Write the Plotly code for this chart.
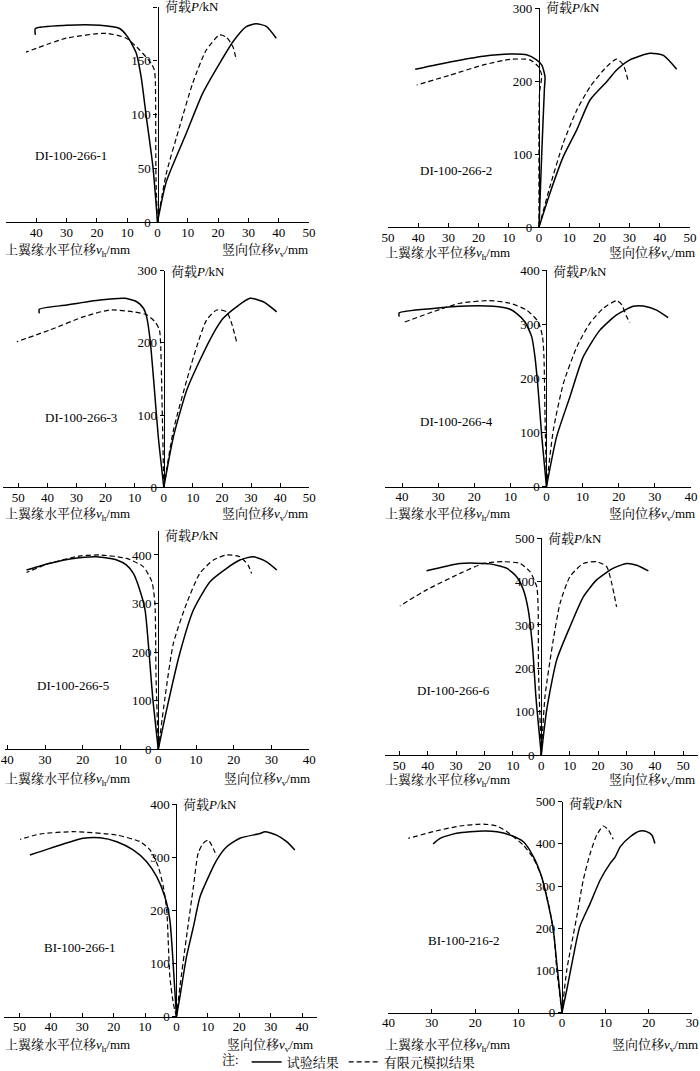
import plotly.graph_objects as go

# ---------------- data (horizontal displacement stored as leftward-positive) ----------------
# Panel 1  DI-100-266-1
p1_h_exp_d = [0, 1.5, 3.7, 5.4, 7, 9.8, 12.5, 19, 30, 40.3, 40.3]
p1_h_exp_p = [0, 51, 98, 135, 157, 172, 180, 183, 183, 180, 174]
p1_h_fe_d = [0, 0.5, 0.7, 1.0, 2.1, 5.9, 10.3, 16.9, 30.1, 43.4]
p1_h_fe_p = [0, 40, 130, 141, 147.6, 160, 171, 175.5, 171, 158]
p1_v_exp_d = [0, 2.9, 9.5, 14.9, 20.5, 24.9, 29.3, 32.6, 35.9, 39.2]
p1_v_exp_p = [0, 37.5, 82.5, 119.7, 147.6, 167.7, 181.7, 184.4, 182, 171]
p1_v_fe_d = [0, 2.9, 7.3, 11.6, 16.1, 20.5, 22.7, 24.9, 26]
p1_v_fe_p = [0, 45, 88.7, 129, 160, 174, 172, 163, 150.7]

# Panel 2  DI-100-266-2
p2_h_exp_d = [0, -0.9, -1.8, -2.0, -1.5, -0.9, 0.8, 4.1, 9.6, 18.4, 29.5, 41]
p2_h_exp_p = [0, 100, 190, 205, 215, 222, 229, 236, 237, 234, 226, 216]
p2_h_fe_d = [0, 0, -0.2, -0.9, 0.2, 3, 9.6, 18.4, 29.5, 40.5]
p2_h_fe_p = [0, 150, 185, 208, 219.6, 229, 229.7, 222, 208, 194.5]
p2_v_exp_d = [0, 3.6, 8, 12.5, 16.9, 22.4, 25.7, 30.1, 36.8, 41.2, 45.6]
p2_v_exp_p = [0, 46, 96, 133, 174, 199, 215, 229, 238, 235, 216]
p2_v_fe_d = [0, 3.6, 8, 12.5, 16.9, 22.4, 25.7, 27.9, 29.6]
p2_v_fe_p = [0, 55, 114.6, 160, 192, 219.6, 230, 222, 199]

# Panel 3  DI-100-266-3
p3_h_exp_d = [0, 1.9, 3.4, 4.7, 5.9, 7, 9.3, 13.3, 21.9, 33.4, 42.8, 42.8]
p3_h_exp_p = [0, 70, 144, 204, 236, 248, 257, 261.7, 259.4, 252.5, 246.5, 241]
p3_h_fe_d = [0, 0.5, 1.1, 1.5, 3, 5.9, 10.5, 18.5, 27.7, 39.1, 50.5]
p3_h_fe_p = [0, 98, 199, 218, 229, 239, 243, 245.6, 236, 218, 201.7]
p3_v_exp_d = [0, 3.3, 7.9, 12.4, 17, 20.4, 25, 29.6, 34.2, 38.8]
p3_v_exp_p = [0, 70, 134.8, 176, 213, 234, 250, 261.7, 257, 243]
p3_v_fe_d = [0, 3.3, 7.9, 11.3, 14.7, 18.2, 21.6, 23.3, 25]
p3_v_fe_p = [0, 79, 148.6, 194.7, 231.7, 245.6, 243, 227, 201.7]

# Panel 4  DI-100-266-4
p4_h_exp_d = [0, 1.3, 2.3, 3.2, 4.1, 6, 8.3, 10.1, 14.7, 22.1, 31.4, 40.8, 40.8]
p4_h_exp_p = [0, 92, 178.5, 240, 277, 304.6, 320, 327.5, 333, 333.6, 329, 321, 314]
p4_h_fe_d = [0, 0.4, 0.7, 1.1, 2.3, 5.5, 10.1, 15.7, 24, 31.4, 39.7]
p4_h_fe_p = [0, 129, 240, 277, 304.6, 326, 338.6, 343.4, 338.6, 323, 302.8]
p4_v_exp_d = [0, 2.8, 6.5, 10.2, 14.8, 19.4, 24, 26.8, 30.5, 33.7]
p4_v_exp_p = [0, 92, 166, 240, 289, 317, 333, 333.6, 326, 312]
p4_v_fe_d = [0, 1.9, 4.7, 8.4, 12, 15.7, 19.4, 20.8, 22.2, 23.1]
p4_v_fe_p = [0, 104.7, 191, 258, 301.6, 329, 343.4, 336, 314, 303]

# Panel 5  DI-100-266-5
p5_h_exp_d = [0, 1.5, 2.5, 3.5, 4.9, 6.6, 8.4, 11, 16.3, 22.5, 28.7, 34.9]
p5_h_exp_p = [0, 108, 204, 286.7, 328, 362, 379, 389.6, 396.5, 393, 383, 369]
p5_h_fe_d = [0, 0.6, 0.9, 1.7, 4, 8.4, 15.4, 20.7, 28.7, 34.9]
p5_h_fe_p = [0, 149.4, 300.5, 345, 376, 393, 400, 398, 383, 364]
p5_v_exp_d = [0, 2.2, 5.7, 9.3, 13.7, 18.1, 21.6, 25.2, 28.7, 31.4]
p5_v_exp_p = [0, 81, 197.6, 286.7, 345, 372.6, 389.6, 396.5, 386, 369]
p5_v_fe_d = [0, 1.8, 4, 7.5, 11, 14.6, 18.1, 21.6, 23.8, 24.7]
p5_v_fe_p = [0, 108, 218, 300.5, 362, 389.6, 400, 396.5, 379, 362]

# Panel 6  DI-100-266-6
p6_h_exp_d = [0, 1.9, 3, 4.6, 6.3, 8.7, 12.2, 18.1, 28.6, 40.4]
p6_h_exp_p = [0, 134.6, 242, 334.6, 381, 411.5, 431, 441, 442, 425]
p6_h_fe_d = [0, 1.0, 1.1, 1.6, 4, 7.5, 13.4, 20.4, 28.6, 40.4, 49.8]
p6_h_fe_p = [0, 200, 334.6, 388, 423, 442, 446, 442, 419, 381, 344]
p6_v_exp_d = [0, 1.9, 5.4, 10.1, 14.8, 19.5, 25.4, 30.1, 33.6, 37.7]
p6_v_exp_p = [0, 104, 219, 296, 365, 404, 431, 442, 438, 425]
p6_v_fe_d = [0, 1.3, 4.2, 6.6, 10.1, 14.8, 19.5, 23, 24.8, 26.5]
p6_v_fe_p = [0, 134.6, 265, 350, 411.5, 442, 446, 434.6, 396, 342]

# Panel 7  BI-100-266-1
p7_h_exp_d = [0, 1.2, 2.1, 3.7, 6.3, 9.5, 13.8, 19, 24.4, 29.7, 40.3, 46.7]
p7_h_exp_p = [0, 113, 182, 226, 263.7, 292, 314, 329.6, 337, 336, 317, 304.5]
p7_h_fe_d = [0, 1, 2.1, 2.6, 3.1, 4.2, 5.8, 8.4, 11.6, 19, 32.9, 43.5, 49.8]
p7_h_fe_p = [0, 25, 75, 138, 201, 245, 282.5, 314, 329.6, 342, 348.4, 344, 334]
p7_v_exp_d = [0, 1.1, 3.2, 5.4, 7.5, 10.7, 12.8, 16, 20.2, 26.6, 28.2, 31.9, 35.1, 37.7]
p7_v_exp_p = [0, 37.7, 113, 169.5, 226, 270, 295, 320, 336, 345, 348.4, 342, 329.6, 314]
p7_v_fe_d = [0, 1.1, 3.2, 5.4, 6.9, 8.5, 10.1, 11.7, 12.8]
p7_v_fe_p = [0, 56.5, 150.7, 245, 307.7, 326.6, 332.7, 317, 302.6]

# Panel 8  BI-100-216-2
p8_h_exp_d = [0, 1.2, 2, 3.2, 4.7, 6.6, 8.9, 12, 15, 18.1, 24.3, 28.1, 29.7]
p8_h_exp_p = [0, 117, 196, 259, 322, 369.7, 405, 421, 429, 430.6, 425, 413, 399.8]
p8_h_fe_d = [0, 1.2, 1.8, 2.8, 4.7, 6.6, 8.9, 12.7, 15, 18.1, 23.5, 29.7, 35.4]
p8_h_fe_p = [0, 101, 180, 243, 322, 366, 397, 429, 442.4, 447, 442.4, 429, 413]
p8_v_exp_d = [0, 1.1, 2.6, 4.1, 6.5, 8.8, 11.1, 12.2, 13.4, 15.7, 18, 19.5, 20.7, 21.4]
p8_v_exp_p = [0, 54, 133, 204, 259, 314.5, 354, 368, 393, 417, 430.6, 429, 421, 401]
p8_v_fe_d = [0, 1.1, 3.4, 4.9, 6.5, 8, 9.5, 10.7, 11.8]
p8_v_fe_p = [0, 101, 227.5, 314.5, 377.7, 421, 442.4, 433, 411]

specimen_names = ["DI-100-266-1", "DI-100-266-2", "DI-100-266-3", "DI-100-266-4",
                  "DI-100-266-5", "DI-100-266-6", "BI-100-266-1", "BI-100-216-2"]
x_tick_limits = [(50, 50), (50, 50), (50, 50), (40, 40), (40, 40), (50, 50), (50, 40), (40, 30)]
y_maxes = [200, 300, 300, 400, 450, 500, 400, 500]
y_tick_steps = [50, 100, 100, 100, 100, 100, 100, 100]
y_tick_tops = [200, 300, 300, 400, 400, 500, 400, 500]
legend_names = ["试验结果", "有限元模拟结果"]
y_label = "荷载<i>P</i>/kN"
xh_label = "上翼缘水平位移<i>v</i><sub>h</sub>/mm"
xv_label = "竖向位移<i>v</i><sub>v</sub>/mm"
note_label = "注:"

series = [
    (p1_h_exp_d, p1_h_exp_p, p1_h_fe_d, p1_h_fe_p, p1_v_exp_d, p1_v_exp_p, p1_v_fe_d, p1_v_fe_p),
    (p2_h_exp_d, p2_h_exp_p, p2_h_fe_d, p2_h_fe_p, p2_v_exp_d, p2_v_exp_p, p2_v_fe_d, p2_v_fe_p),
    (p3_h_exp_d, p3_h_exp_p, p3_h_fe_d, p3_h_fe_p, p3_v_exp_d, p3_v_exp_p, p3_v_fe_d, p3_v_fe_p),
    (p4_h_exp_d, p4_h_exp_p, p4_h_fe_d, p4_h_fe_p, p4_v_exp_d, p4_v_exp_p, p4_v_fe_d, p4_v_fe_p),
    (p5_h_exp_d, p5_h_exp_p, p5_h_fe_d, p5_h_fe_p, p5_v_exp_d, p5_v_exp_p, p5_v_fe_d, p5_v_fe_p),
    (p6_h_exp_d, p6_h_exp_p, p6_h_fe_d, p6_h_fe_p, p6_v_exp_d, p6_v_exp_p, p6_v_fe_d, p6_v_fe_p),
    (p7_h_exp_d, p7_h_exp_p, p7_h_fe_d, p7_h_fe_p, p7_v_exp_d, p7_v_exp_p, p7_v_fe_d, p7_v_fe_p),
    (p8_h_exp_d, p8_h_exp_p, p8_h_fe_d, p8_h_fe_p, p8_v_exp_d, p8_v_exp_p, p8_v_fe_d, p8_v_fe_p),
]

# ---------------- layout geometry (pixels in 700x1071 page) ----------------
W, H = 700, 1071
# x range, pixel left/right of plot area, pixel y of P=0 and top of axis
geom = [
    ((-50, 50), 6, 309, 222, 7),
    ((-50, 50), 388, 690, 227, 8),
    ((-55.3, 50), 2.9, 309.3, 487.3, 270.7),
    ((-44.7, 40), 385.1, 690.9, 486.7, 270),
    ((-40.5, 40), 5.4, 309.3, 749.3, 530.7),
    ((-55, 55), 385.1, 697.5, 755, 538.3),
    ((-55, 44.6), 3.8, 316.5, 1016.7, 804.3),
    ((-40, 30), 388.4, 692.2, 1012.7, 801.7),
]
label_pos = [(33, 155), (418, 170), (43, 418), (418, 422), (35, 685), (415, 690), (42, 947), (426, 940)]
title_pos = [(3, 310, 250), (383, 697, 253), (3, 310, 514), (383, 697, 514),
             (3, 312, 779), (383, 697, 780), (3, 315, 1045), (383, 700, 1045)]
ylab_top = [7, 8, 271, 271, 535, 538, 804, 803]

FONT = "Liberation Serif, Times New Roman, Noto Serif CJK SC, Noto Sans CJK SC, serif"
fig = go.Figure()
annotations = []
layout_axes = {}

for i in range(8):
    (xr, pl, pr, pb, pt) = geom[i]
    ax_id = "" if i == 0 else str(i + 1)
    xa, ya = "x" + ax_id, "y" + ax_id
    dx0, dx1 = pl / W, pr / W
    dy0, dy1 = 1 - pb / H, 1 - pt / H
    ypos = dx0 + (0 - xr[0]) / (xr[1] - xr[0]) * (dx1 - dx0)
    lo, hi = x_tick_limits[i]
    tv = list(range(-lo, hi + 1, 10))
    tt = [str(abs(v)) for v in tv]
    layout_axes["xaxis" + ax_id] = dict(
        domain=[dx0, dx1], range=list(xr), anchor=ya, showline=True, linecolor="black",
        linewidth=1.2, ticks="inside", ticklen=4, tickwidth=1, tickcolor="black",
        tickvals=tv, ticktext=tt, showgrid=False, zeroline=False, automargin=False,
        ticklabelstandoff=-2,
        tickfont=dict(family=FONT, size=13, color="black"))
    yt = list(range(0, y_tick_tops[i] + 1, y_tick_steps[i]))
    layout_axes["yaxis" + ax_id] = dict(
        domain=[dy0, dy1], range=[0, y_maxes[i]], anchor="free", position=ypos,
        showline=True, linecolor="black", linewidth=1.2, ticks="outside", ticklen=4,
        tickwidth=1, tickcolor="black", tickvals=yt, ticktext=[str(v) for v in yt],
        showgrid=False, zeroline=False, ticklabelstandoff=0, automargin=False,
        tickfont=dict(family=FONT, size=13, color="black"))

    hd_e, hp_e, hd_f, hp_f, vd_e, vp_e, vd_f, vp_f = series[i]
    solid = dict(color="black", width=1.5, shape="spline", smoothing=0.6)
    dashed = dict(color="black", width=1.2, dash="5px,3px", shape="spline", smoothing=0.6)
    fig.add_trace(go.Scatter(x=[-d for d in hd_e], y=hp_e, mode="lines", line=solid,
                             xaxis=xa, yaxis=ya, name=legend_names[0], showlegend=(i == 0)))
    fig.add_trace(go.Scatter(x=[-d for d in hd_f], y=hp_f, mode="lines", line=dashed,
                             xaxis=xa, yaxis=ya, name=legend_names[1], showlegend=(i == 0)))
    fig.add_trace(go.Scatter(x=vd_e, y=vp_e, mode="lines", line=solid,
                             xaxis=xa, yaxis=ya, showlegend=False))
    fig.add_trace(go.Scatter(x=vd_f, y=vp_f, mode="lines", line=dashed,
                             xaxis=xa, yaxis=ya, showlegend=False))

    lx, ly = label_pos[i]
    annotations.append(dict(x=lx / W, y=1 - ly / H, xref="paper", yref="paper",
                            text=specimen_names[i], showarrow=False, xanchor="left",
                            yanchor="middle", font=dict(family=FONT, size=13, color="black")))
    tl, tr, ty = title_pos[i]
    annotations.append(dict(x=tl / W, y=1 - ty / H, xref="paper", yref="paper",
                            text=xh_label, showarrow=False, xanchor="left", yanchor="middle",
                            font=dict(family=FONT, size=13, color="black")))
    annotations.append(dict(x=tr / W, y=1 - ty / H, xref="paper", yref="paper",
                            text=xv_label, showarrow=False, xanchor="right", yanchor="middle",
                            font=dict(family=FONT, size=13, color="black")))
    annotations.append(dict(x=ypos + 5 / W, y=1 - ylab_top[i] / H, xref="paper", yref="paper",
                            text=y_label, showarrow=False, xanchor="left", yanchor="middle",
                            font=dict(family=FONT, size=13, color="black")))

fig.update_layout(
    width=W, height=H, margin=dict(l=0, r=0, t=0, b=0, autoexpand=False),
    paper_bgcolor="white", plot_bgcolor="rgba(0,0,0,0)",
    annotations=annotations,
    showlegend=True,
    legend=dict(orientation="h", x=0.5, xanchor="center", y=1 - 1062 / H, yanchor="middle",
                title=dict(text=note_label, side="left", font=dict(family=FONT, size=13)),
                font=dict(family=FONT, size=13, color="black"), itemwidth=30,
                bgcolor="rgba(0,0,0,0)", tracegroupgap=0),
    **layout_axes,
)

fig.write_html("out.html", config={"displayModeBar": False},
               post_script="document.body.style.margin='0';document.body.style.padding='0';"
                           "document.documentElement.style.overflow='hidden';")
